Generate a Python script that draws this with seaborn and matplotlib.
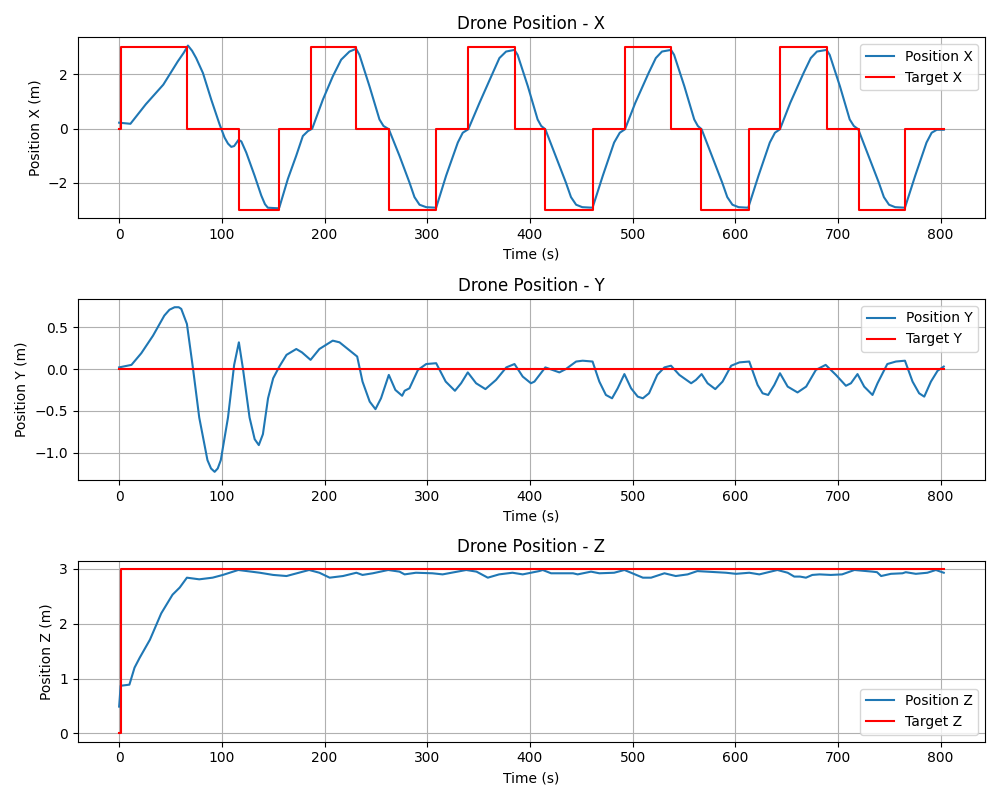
import matplotlib
matplotlib.use("Agg")
import matplotlib.pyplot as plt
import seaborn as sns
import pandas as pd

# ---- Data ----
target_t = [0, 2, 66, 117, 156, 187, 231, 263, 309, 340, 385, 415, 461, 493,
            537, 567, 613, 644, 689, 720, 765, 803]
target_x = [0, 3, 0, -3, 0, 3, 0, -3, 0, 3, 0, -3, 0, 3, 0, -3, 0, 3, 0, -3, 0, 0]

target_y_t = [0, 803]
target_y = [0, 0]

target_z_t = [0, 2, 803]
target_z = [0, 3, 3]

pos_x_t = [0, 11, 26, 43, 57, 63, 67, 71, 75, 81.6, 89.7, 97.8, 102.7, 106, 109.2, 112, 116.3,
           119, 123.8, 131.9, 138.4, 142, 144.8, 154.6, 156,
           164.3, 172.4, 178.9, 183.8, 188, 198.4, 208.1, 216.2, 224.3, 230.8,
           234, 243.8, 253.5, 257.4, 262.6, 273, 282.7, 287.6, 292.5, 299, 308.7,
           318.4, 329.8, 334.6, 340, 350.9, 363.8, 370.3, 376.8, 384.9,
           388, 398, 407.5, 411, 415, 425, 435, 440, 445, 451, 461,
           471, 482, 487.5, 492.6, 502.6, 515.6, 522.6, 528.6, 537.4,
           540.4, 550.4, 560, 563.5, 567.2, 577.2, 587.2, 592.2, 597.2, 603.2, 612.6,
           622.6, 633.6, 638.6, 643.5, 653.5, 666.5, 673.5, 679.5, 688.9,
           691.9, 701.9, 711.4, 715.4, 719.7, 729.7, 739.7, 744.7, 749.7, 755.7, 765.2,
           775.2, 786.2, 791.2, 796.2, 803]
pos_x = [0.22, 0.18, 0.90, 1.62, 2.47, 2.80, 3.06, 2.87, 2.60, 2.05, 1.07, 0.16, -0.33, -0.55, -0.67, -0.64, -0.41,
         -0.47, -0.88, -1.73, -2.46, -2.78, -2.91, -2.93, -2.90,
         -1.85, -1.0, -0.27, -0.09, 0.0, 1.07, 1.93, 2.54, 2.84, 2.94,
         2.72, 1.56, 0.34, 0.10, -0.02, -1.0, -1.98, -2.52, -2.80, -2.89, -2.91,
         -1.73, -0.51, -0.15, -0.02, 0.95, 2.05, 2.60, 2.84, 2.90,
         2.72, 1.56, 0.34, 0.10, -0.02, -1.0, -1.98, -2.52, -2.80, -2.89, -2.91,
         -1.73, -0.51, -0.15, -0.02, 0.95, 2.05, 2.60, 2.84, 2.90,
         2.72, 1.56, 0.34, 0.10, -0.02, -1.0, -1.98, -2.52, -2.80, -2.89, -2.91,
         -1.73, -0.51, -0.15, -0.02, 0.95, 2.05, 2.60, 2.84, 2.90,
         2.72, 1.56, 0.34, 0.10, -0.02, -1.0, -1.98, -2.52, -2.80, -2.89, -2.91,
         -1.73, -0.51, -0.15, -0.04, -0.04]

pos_y_t = [0, 12, 21.6, 33, 44, 49, 54, 58, 60.5, 66, 72, 78, 86, 89.5, 93, 96, 99, 106, 112, 116.6, 120.5,
           127, 132, 136, 140, 145, 150, 156, 163, 172.5, 178, 186.4, 195, 208, 214.6,
           231.8, 237, 244, 249.6, 255, 262.6, 269, 275.6, 278, 282.7, 291, 299, 308.7,
           318, 327, 333, 339.5, 347.6, 356.7, 367, 377, 385, 393, 401, 404.4, 415,
           428.7, 435, 445, 451.4, 461, 467.6, 474, 480, 485.5, 492, 498.5, 505, 510,
           516, 524, 531, 537.4, 545.5, 557, 561.7, 567.2, 573, 580.5, 587.6, 596, 604,
           613.6, 621.7, 626.6, 632, 638, 643.5, 651, 660.6, 669, 678.5, 688, 698, 707.7,
           712.6, 719, 725.5, 733.6, 738.5, 748, 756.4, 765.2, 772.6, 779, 784, 790.5,
           797, 803]
pos_y = [0.02, 0.05, 0.19, 0.40, 0.64, 0.71, 0.74, 0.74, 0.72, 0.54, 0.0, -0.58, -1.09, -1.19, -1.23, -1.19, -1.09, -0.58, 0.05, 0.32, 0.01,
         -0.58, -0.84, -0.91, -0.78, -0.35, -0.11, 0.03, 0.17, 0.24, 0.20, 0.11, 0.24, 0.34, 0.32,
         0.15, -0.15, -0.39, -0.48, -0.35, -0.07, -0.25, -0.32, -0.26, -0.23, -0.01, 0.06, 0.07,
         -0.15, -0.26, -0.17, -0.04, -0.17, -0.24, -0.13, 0.02, 0.06, -0.09, -0.17, -0.15, 0.02,
         -0.04, 0.0, 0.09, 0.10, 0.09, -0.15, -0.31, -0.35, -0.23, -0.06, -0.23, -0.33, -0.35,
         -0.29, -0.07, 0.02, 0.04, -0.07, -0.17, -0.13, -0.06, -0.17, -0.24, -0.15, 0.04, 0.08,
         0.09, -0.19, -0.29, -0.31, -0.19, -0.05, -0.21, -0.28, -0.21, -0.01, 0.05, -0.07, -0.20,
         -0.17, -0.06, -0.21, -0.31, -0.17, 0.06, 0.09, 0.10, -0.15, -0.29, -0.33, -0.15,
         -0.02, 0.03]

pos_z_t = [0, 1.5, 10, 15, 20, 30, 41, 52, 59, 66, 78, 91, 101, 116, 137, 150, 163, 185,
           195, 205, 218, 231, 237, 247, 262, 273, 278, 289, 305, 315, 338, 348, 359, 370,
           383, 393, 409, 412.5, 420.6, 442, 446.5, 459.5, 467.6, 482, 492, 498.5, 510, 518,
           531, 542, 553.6, 563, 591, 600.7, 613.6, 623.4, 641, 651, 657.4, 663, 668.8,
           675, 682, 693, 704, 716, 733.6, 738, 742, 751.5, 762.8, 766, 775.8, 787, 795.3,
           803]
pos_z = [0.49, 0.87, 0.89, 1.20, 1.38, 1.71, 2.19, 2.53, 2.66, 2.84, 2.81, 2.84, 2.89, 2.98, 2.93, 2.89, 2.87, 2.98,
         2.93, 2.84, 2.87, 2.93, 2.89, 2.92, 2.98, 2.95, 2.90, 2.93, 2.92, 2.90, 2.98, 2.95, 2.84, 2.90,
         2.93, 2.90, 2.96, 2.98, 2.92, 2.92, 2.90, 2.95, 2.92, 2.93, 2.98, 2.93, 2.84, 2.84,
         2.92, 2.87, 2.90, 2.96, 2.93, 2.91, 2.93, 2.90, 2.98, 2.93, 2.86, 2.86, 2.84,
         2.89, 2.90, 2.89, 2.90, 2.98, 2.95, 2.94, 2.87, 2.91, 2.92, 2.94, 2.91, 2.93, 2.98,
         2.93]

panels = [
    ("X", pos_x_t, pos_x, target_t, target_x, "upper right"),
    ("Y", pos_y_t, pos_y, target_y_t, target_y, "upper right"),
    ("Z", pos_z_t, pos_z, target_z_t, target_z, "lower right"),
]

fig, axes = plt.subplots(3, 1, figsize=(10, 8), dpi=100)
for ax, (name, pt, pv, tt, tv, loc) in zip(axes, panels):
    dfp = pd.DataFrame({"t": pt, "v": pv})
    dft = pd.DataFrame({"t": tt, "v": tv})
    sns.lineplot(data=dfp, x="t", y="v", ax=ax, color="#1f77b4", linewidth=1.5,
                 estimator=None, sort=False, label=f"Position {name}")
    sns.lineplot(data=dft, x="t", y="v", ax=ax, color="red", linewidth=1.5,
                 estimator=None, sort=False, drawstyle="steps-post", label=f"Target {name}")
    ax.set_title(f"Drone Position - {name}", fontsize=12)
    ax.set_xlabel("Time (s)")
    ax.set_ylabel(f"Position {name} (m)")
    ax.grid(True)
    ax.legend(loc=loc)

plt.tight_layout()
fig.savefig("out.png", dpi=100)
